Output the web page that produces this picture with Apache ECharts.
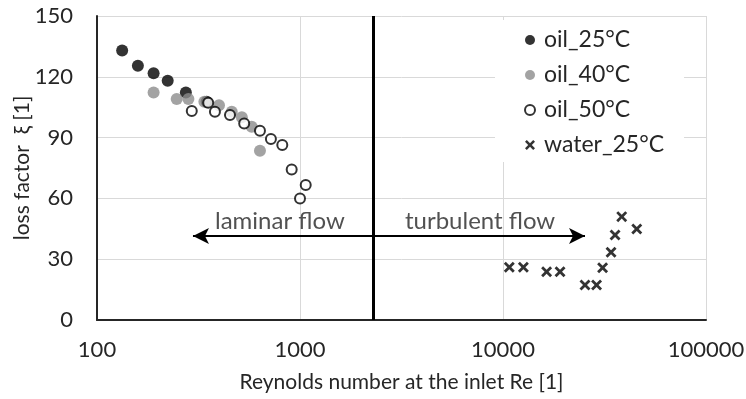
<!DOCTYPE html>
<html>
<head>
<meta charset="utf-8">
<script src="https://cdn.jsdelivr.net/npm/echarts@6/dist/echarts.min.js"></script>
<style>
  html, body { margin: 0; padding: 0; background: #fff; }
  #chart { width: 746px; height: 399px; }
</style>
</head>
<body>
<div id="chart"></div>
<script>
// Reynolds number / loss factor pairs per fluid
const oil25Re = [133, 159, 190, 223, 274, 347];
const oil25Xi = [133, 125.5, 121.7, 118, 112.3, 107.7];

const oil40Re = [190, 247, 282, 338, 399, 461, 517, 578, 635];
const oil40Xi = [112.3, 109, 109, 107.7, 106, 102.8, 100, 95.4, 83.5];

const oil50Re = [293, 353, 381, 452, 531, 635, 719, 818, 910, 1000, 1067];
const oil50Xi = [103.1, 107.2, 102.8, 101.2, 97, 93.4, 89.3, 86.3, 74.3, 60, 66.6];

const waterRe = [10740, 12600, 16400, 19100, 25350, 28900, 30950, 34060, 35650, 38450, 45600];
const waterXi = [26, 26, 23.8, 23.8, 17.3, 17.3, 25.8, 33.4, 41.9, 51, 44.9];

// Laminar / turbulent transition and flow-regime annotations
const transitionRe = 2300;
const arrowXi = 41.4;
const laminarArrowEnd = 297;
const turbulentArrowEnd = 25350;
const regimeLabels = [
  { text: 'laminar flow', re: 796, xi: 48.8 },
  { text: 'turbulent flow', re: 7710, xi: 48.8 }
];

const xTicks = [100, 1000, 10000, 100000];
const yTicks = [0, 30, 60, 90, 120, 150];

const FONT = 'Lato';
const TXT = '#262626';
const FS = 21;
const pairs = (a, b) => a.map((v, i) => [v, b[i]]);
const crossPath = 'path://M0,1.8 L1.8,0 L5,3.2 L8.2,0 L10,1.8 L6.8,5 L10,8.2 L8.2,10 L5,6.8 L1.8,10 L0,8.2 L3.2,5 Z';

const chart = echarts.init(document.getElementById('chart'), null, { renderer: 'canvas' });

chart.setOption({
  animation: false,
  backgroundColor: '#fff',
  grid: { left: 97, right: 40, top: 16, bottom: 79, containLabel: false, outerBoundsMode: 'none' },
  xAxis: {
    type: 'log',
    logBase: 10,
    min: xTicks[0],
    max: xTicks[xTicks.length - 1],
    name: 'Reynolds number at the inlet Re [1]',
    nameLocation: 'middle',
    nameGap: 52,
    nameMoveOverlap: false,
    nameTextStyle: { fontFamily: FONT, fontSize: FS, color: TXT },
    axisLine: { show: true, onZero: false, lineStyle: { color: '#262626', width: 2 } },
    axisTick: { show: false },
    minorTick: { show: false },
    axisLabel: {
      fontFamily: FONT, fontSize: 22, color: TXT, margin: 19,
      formatter: v => String(Math.round(v))
    },
    splitLine: { show: true, lineStyle: { color: '#d9d9d9', width: 1 } }
  },
  yAxis: {
    type: 'value',
    min: yTicks[0],
    max: yTicks[yTicks.length - 1],
    interval: 30,
    name: 'loss factor  ξ [1]',
    nameLocation: 'middle',
    nameGap: 64,
    nameMoveOverlap: false,
    nameTextStyle: { fontFamily: FONT, fontSize: FS, color: TXT },
    axisLine: { show: true, lineStyle: { color: '#262626', width: 2 } },
    axisTick: { show: false },
    axisLabel: { fontFamily: FONT, fontSize: 22, color: TXT, margin: 24 },
    splitLine: { show: true, lineStyle: { color: '#d9d9d9', width: 1 } }
  },
  legend: {
    orient: 'vertical',
    left: 495,
    top: 20,
    padding: [8, 20, 5, 29],
    backgroundColor: '#fff',
    itemGap: 11,
    itemWidth: 10,
    itemHeight: 10,
    textStyle: { fontFamily: FONT, fontSize: 23, color: TXT, lineHeight: 24, padding: [0, 0, 0, 4] },
    data: ['oil_25°C', 'oil_40°C', 'oil_50°C', 'water_25°C']
  },
  series: [
    {
      // transition line, regime arrows and labels
      name: 'regimes',
      type: 'scatter',
      data: regimeLabels.map(l => ({ value: [l.re, l.xi], name: l.text })),
      symbolSize: 0,
      silent: true,
      z: 1,
      label: {
        show: true,
        position: 'inside',
        formatter: p => p.name,
        fontFamily: FONT, fontSize: 24, color: TXT
      },
      markLine: {
        silent: true,
        animation: false,
        label: { show: false },
        data: [
          [
            { coord: [transitionRe, 0], symbol: 'none', lineStyle: { color: '#000', width: 3, type: 'solid' } },
            { coord: [transitionRe, 150], symbol: 'none' }
          ],
          [
            { coord: [transitionRe, arrowXi], symbol: 'none', lineStyle: { color: '#000', width: 2, type: 'solid' } },
            { coord: [laminarArrowEnd, arrowXi], symbol: 'arrow', symbolSize: [12, 16] }
          ],
          [
            { coord: [transitionRe, arrowXi], symbol: 'none', lineStyle: { color: '#000', width: 2, type: 'solid' } },
            { coord: [turbulentArrowEnd, arrowXi], symbol: 'arrow', symbolSize: [12, 16] }
          ]
        ]
      }
    },
    {
      name: 'oil_25°C',
      type: 'scatter',
      data: pairs(oil25Re, oil25Xi),
      symbol: 'circle',
      symbolSize: 12,
      itemStyle: { color: '#000' },
      z: 3
    },
    {
      name: 'oil_40°C',
      type: 'scatter',
      data: pairs(oil40Re, oil40Xi),
      symbol: 'circle',
      symbolSize: 12,
      itemStyle: { color: '#8c8c8c' },
      z: 4
    },
    {
      name: 'oil_50°C',
      type: 'scatter',
      data: pairs(oil50Re, oil50Xi),
      symbol: 'circle',
      symbolSize: 10,
      itemStyle: { color: '#fff', borderColor: '#000', borderWidth: 2 },
      z: 5
    },
    {
      name: 'water_25°C',
      type: 'scatter',
      data: pairs(waterRe, waterXi),
      symbol: crossPath,
      symbolSize: 11,
      itemStyle: { color: '#000' },
      z: 6
    }
  ]
});
</script>
</body>
</html>
